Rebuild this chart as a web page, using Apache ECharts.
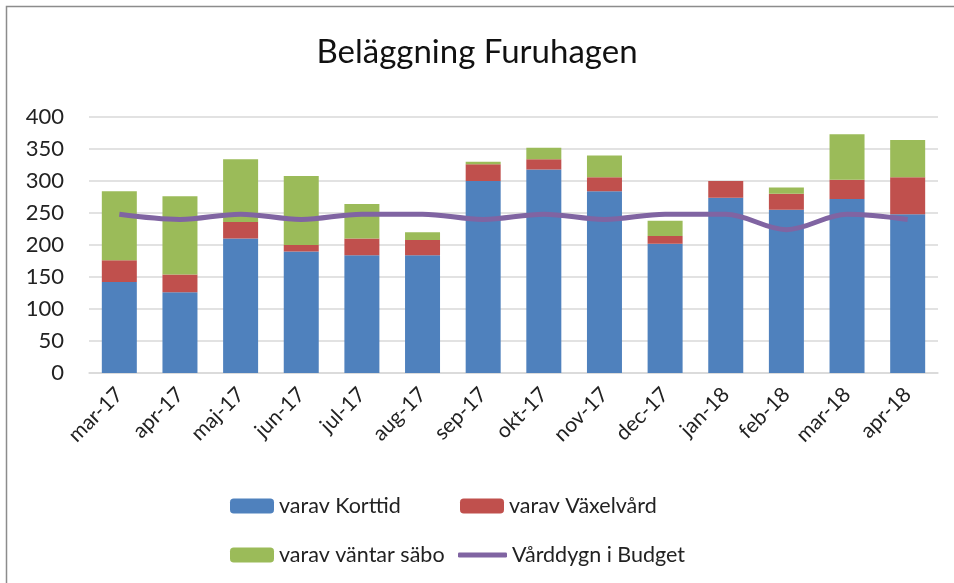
<!DOCTYPE html>
<html>
<head>
<meta charset="utf-8">
<script src="https://cdn.jsdelivr.net/npm/echarts@6/dist/echarts.min.js"></script>
<style>
  html, body { margin: 0; padding: 0; background: #fff; }
  #chart { width: 954px; height: 583px; }
</style>
</head>
<body>
<div id="chart"></div>
<script>
const months = ['mar-17', 'apr-17', 'maj-17', 'jun-17', 'jul-17', 'aug-17', 'sep-17',
  'okt-17', 'nov-17', 'dec-17', 'jan-18', 'feb-18', 'mar-18', 'apr-18'];

// staplade värden, läst ur bilden
const korttid = [142, 126, 210, 190, 184, 184, 300, 318, 284, 202, 274, 255, 272, 248];
const vaxelvard = [34, 28, 26, 10, 26, 24, 26, 16, 22, 12, 26, 25, 30, 58];
const vantarSabo = [108, 122, 98, 108, 54, 12, 4, 18, 34, 24, 0, 10, 71, 58];
const budget = [248, 240, 248, 240, 248, 248, 240, 248, 240, 248, 248, 224, 248, 240];

const yTicks = [0, 50, 100, 150, 200, 250, 300, 350, 400];

const font = 'Lato, "Open Sans", sans-serif';
const chart = echarts.init(document.getElementById('chart'));

const legendText = { fontFamily: font, fontSize: 21.5, color: '#222' };
const legendBox = (name, left, top, extra) => Object.assign({
  data: [name],
  left: left,
  top: top,
  itemWidth: 44,
  itemHeight: 15,
  itemGap: 6,
  textStyle: legendText
}, extra || {});

chart.setOption({
  animation: false,
  title: {
    text: 'Beläggning Furuhagen',
    left: 'center',
    top: 31,
    textStyle: { fontFamily: font, fontSize: 33, fontWeight: 'normal', color: '#111' }
  },
  graphic: [{
    type: 'rect',
    shape: { x: 6.5, y: 6.5, width: 1200, height: 1200 },
    style: { fill: 'none', stroke: '#8c8c8c', lineWidth: 1.5 },
    silent: true
  }],
  legend: [
    legendBox('varav Korttid', 225, 490),
    legendBox('varav Växelvård', 455, 490),
    legendBox('varav väntar säbo', 225, 539),
    legendBox('Vårddygn i Budget', 453, 539, {
      itemWidth: 49,
      itemHeight: 5,
      data: [{ name: 'Vårddygn i Budget', icon: 'roundRect' }]
    })
  ],
  grid: { left: 89, right: 16, top: 117, bottom: 210 },
  xAxis: {
    type: 'category',
    data: months,
    axisLine: { lineStyle: { color: '#d9d9d9', width: 1.5 } },
    axisTick: { show: false },
    axisLabel: {
      rotate: 45,
      margin: 18,
      interval: 0,
      fontFamily: font,
      fontSize: 21,
      color: '#222'
    }
  },
  yAxis: {
    type: 'value',
    min: yTicks[0],
    max: yTicks[yTicks.length - 1],
    interval: 50,
    axisLine: { show: false },
    axisTick: { show: false },
    splitLine: { lineStyle: { color: '#d9d9d9', width: 1.5 } },
    axisLabel: { fontFamily: font, fontSize: 22, color: '#222', margin: 25 }
  },
  series: [
    {
      name: 'varav Korttid', type: 'bar', stack: 'total', barWidth: 35,
      itemStyle: { color: '#4f81bd' }, data: korttid
    },
    {
      name: 'varav Växelvård', type: 'bar', stack: 'total',
      itemStyle: { color: '#c0504d' }, data: vaxelvard
    },
    {
      name: 'varav väntar säbo', type: 'bar', stack: 'total',
      itemStyle: { color: '#9bbb59' }, data: vantarSabo
    },
    {
      name: 'Vårddygn i Budget', type: 'line', smooth: 0.35,
      symbol: 'none',
      lineStyle: { color: '#8064a2', width: 5 },
      itemStyle: { color: '#8064a2' },
      data: budget
    }
  ]
});
</script>
</body>
</html>
